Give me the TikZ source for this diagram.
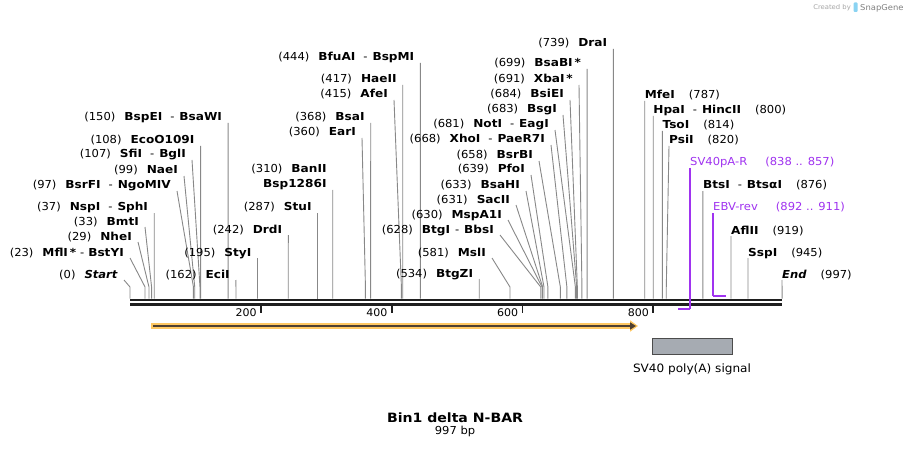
\documentclass[tikz,border=0pt]{standalone}
\usepackage{fontspec}
\setmainfont{DejaVu Sans}[FakeStretch=1.05,BoldFeatures={FakeStretch=1.1}]
\usetikzlibrary{positioning}
\usetikzlibrary{arrows.meta}
\def\myorigin{130}
\def\myscale{0.654}
\def\mybend{287}
\def\mytop{298.5}
\def\mygap{6}
\definecolor{cutgrey}{HTML}{888888}
\definecolor{primerviolet}{HTML}{A033F0}
\definecolor{orfglow}{HTML}{FFC862}
\definecolor{orfdark}{HTML}{4F4030}
\definecolor{signalgrey}{HTML}{A6ABB2}
\definecolor{snapblue}{HTML}{8AD3F2}
\def\nm#1{\textbf{#1}}
% enzyme label left of its cut line, and right of it
\def\leftsite#1#2#3#4#5{%
  \node[left site] (#1) at (#2-\mygap,#3+4) {#5};
  \draw[cut line] ([xshift=\mygap pt,yshift=-2pt]#1.base east) -- ({\myorigin+\myscale*#4},\mybend) -- ({\myorigin+\myscale*#4},\mytop);}
\def\rightsite#1#2#3#4#5{%
  \node[right site] (#1) at (#2,#3+4) {#5};
  \draw[cut line] ([yshift=-2pt]#1.base west) -- ({\myorigin+\myscale*#4},\mybend) -- ({\myorigin+\myscale*#4},\mytop);}
\tikzset{
semithick,
>=stealth,
site/.style={inner sep=0pt,font=\fontsize{11}{13}\selectfont},
left site/.style={site,anchor=base east},
right site/.style={site,anchor=base west},
cut line/.style={draw=cutgrey,line width=0.9pt},
primer/.style={site,anchor=base west,text=primerviolet},
primer line/.style={draw=primerviolet,line width=1.3pt},
primer bar/.style={draw=primerviolet,line width=2.2pt},
backbone/.style={draw=black!88,line width=2.6pt},
scale tick/.style={draw=black!88,line width=1.8pt},
tick label/.style={inner sep=0pt,anchor=base east,font=\fontsize{10.5}{12}\selectfont},
orf glow/.style={draw=orfglow,line width=6pt,-{Triangle[length=8pt,width=11pt]}},
orf/.style={draw=orfdark,line width=2.3pt,-{Triangle[length=6pt,width=7pt]}},
feature/.style={draw=black!70,fill=signalgrey,line width=0.8pt,minimum width=80pt,minimum height=16pt,inner sep=0pt},
feature label/.style={inner sep=0pt,font=\fontsize{11.5}{13}\selectfont},
map name/.style={inner sep=0pt,anchor=base,font=\fontsize{12.8}{15}\selectfont\bfseries},
map size/.style={inner sep=0pt,anchor=base,font=\fontsize{11}{12}\selectfont},
watermark/.style={inner sep=0pt,text=black!35,font=\fontsize{6.5}{8}\selectfont}
}
\begin{document}
\begin{tikzpicture}[x=1pt,y=-1pt]
\path[fill=white,use as bounding box] (0,0) rectangle (912,449);

\node[watermark,anchor=base east] (createdby) at (851,10) {Created by};
\fill[snapblue,rounded corners=1pt] (853.5,2.5) rectangle (857.5,12);
\node[watermark,anchor=base west,text=black!50,font=\fontsize{8}{9}\selectfont] (snapgene) at (860,10.5) {SnapGene};

% backbone and scale
\coordinate (bbstart) at (130,300);
\coordinate (bbend) at (782,300);
\draw[backbone] (bbstart) -- (bbend);
\draw[backbone] ([yshift=-4.3pt]bbstart) -- ([yshift=-4.3pt]bbend);
\foreach \t in {200,400,600,800} {
  \draw[scale tick] ({\myorigin+\myscale*\t},305) -- ({\myorigin+\myscale*\t},312.5);
  \node[tick label] (t\t) at ({\myorigin+\myscale*\t-4},316) {\t};
}

% sites left of the cut
\leftsite{start}{124}{274}{0}{(0)\hspace{9pt}\nm{\textit{Start}}}
\leftsite{mfli}{130}{252}{23}{(23)\hspace{9pt}\nm{MflI\,*}\hspace{4pt}-\hspace{4pt}\nm{BstYI}}
\leftsite{nhei}{138}{236}{29}{(29)\hspace{9pt}\nm{NheI}}
\leftsite{bmti}{145}{221}{33}{(33)\hspace{9pt}\nm{BmtI}}
\leftsite{nspi}{154.2}{207}{37}{(37)\hspace{9pt}\nm{NspI}\hspace{8pt}-\hspace{5pt}\nm{SphI}}
\leftsite{bsrfi}{177}{185}{97}{(97)\hspace{9pt}\nm{BsrFI}\hspace{8pt}-\hspace{5pt}\nm{NgoMIV}}
\leftsite{naei}{184}{170}{99}{(99)\hspace{9pt}\nm{NaeI}}
\leftsite{sfii}{192}{154}{107}{(107)\hspace{9pt}\nm{SfiI}\hspace{8pt}-\hspace{5pt}\nm{BglI}}
\leftsite{ecoo109i}{200.6}{140}{108}{(108)\hspace{9pt}\nm{EcoO109I}}
\leftsite{bspei}{228.1}{117}{150}{(150)\hspace{9pt}\nm{BspEI}\hspace{8pt}-\hspace{5pt}\nm{BsaWI}}
\leftsite{ecii}{235.9}{274}{162}{(162)\hspace{9pt}\nm{EciI}}
\leftsite{styi}{257.5}{252}{195}{(195)\hspace{9pt}\nm{StyI}}
\leftsite{drdi}{288.3}{229}{242}{(242)\hspace{9pt}\nm{DrdI}}
\leftsite{stui}{317.7}{207}{287}{(287)\hspace{9pt}\nm{StuI}}
\node[left site] (banii) at (332.7-\mygap,173) {(310)\hspace{9pt}\nm{BanII}};
\leftsite{bsp1286i}{332.7}{184}{310}{\nm{Bsp1286I}}
\leftsite{eari}{362}{132}{360}{(360)\hspace{9pt}\nm{EarI}}
\leftsite{bsai}{370.7}{117}{368}{(368)\hspace{9pt}\nm{BsaI}}
\leftsite{afei}{394}{94}{415}{(415)\hspace{9pt}\nm{AfeI}}
\leftsite{haeii}{402.7}{79}{417}{(417)\hspace{9pt}\nm{HaeII}}
\leftsite{bfuai}{420.4}{57}{444}{(444)\hspace{9pt}\nm{BfuAI}\hspace{8pt}-\hspace{5pt}\nm{BspMI}}
\leftsite{btgzi}{479.2}{273}{534}{(534)\hspace{9pt}\nm{BtgZI}}
\leftsite{msli}{492}{252}{581}{(581)\hspace{9pt}\nm{MslI}}
\leftsite{btgi}{500}{229}{628}{(628)\hspace{9pt}\nm{BtgI}\hspace{5pt}-\hspace{5pt}\nm{BbsI}}
\leftsite{mspa1i}{508}{214}{630}{(630)\hspace{9pt}\nm{MspA1I}}
\leftsite{sacii}{516}{199}{631}{(631)\hspace{9pt}\nm{SacII}}
\leftsite{bsahi}{526}{185}{633}{(633)\hspace{9pt}\nm{BsaHI}}
\leftsite{pfoi}{531}{169}{639}{(639)\hspace{9pt}\nm{PfoI}}
\leftsite{bsrbi}{539}{155}{658}{(658)\hspace{9pt}\nm{BsrBI}}
\leftsite{xhoi}{551}{139}{668}{(668)\hspace{9pt}\nm{XhoI}\hspace{8pt}-\hspace{5pt}\nm{PaeR7I}}
\leftsite{noti}{555}{124}{681}{(681)\hspace{9pt}\nm{NotI}\hspace{8pt}-\hspace{5pt}\nm{EagI}}
\leftsite{bsgi}{563}{109}{683}{(683)\hspace{9pt}\nm{BsgI}}
\leftsite{bsiei}{570}{94}{684}{(684)\hspace{9pt}\nm{BsiEI}}
\leftsite{xbai}{579}{79}{691}{(691)\hspace{9pt}\nm{XbaI\,*}}
\leftsite{bsabi}{587.1}{63}{699}{(699)\hspace{9pt}\nm{BsaBI\,*}}
\leftsite{drai}{613.3}{43}{739}{(739)\hspace{9pt}\nm{DraI}}

% sites right of the cut
\rightsite{mfei}{644.7}{95}{787}{\nm{MfeI}\hspace{14pt}(787)}
\rightsite{hpai}{653.2}{110}{800}{\nm{HpaI}\hspace{8pt}-\hspace{5pt}\nm{HincII}\hspace{14pt}(800)}
\rightsite{tsoi}{662.4}{125}{814}{\nm{TsoI}\hspace{14pt}(814)}
\rightsite{psii}{669}{140}{820}{\nm{PsiI}\hspace{14pt}(820)}
\rightsite{btsi}{702.9}{185}{876}{\nm{BtsI}\hspace{8pt}-\hspace{5pt}\nm{BtsαI}\hspace{14pt}(876)}
\rightsite{aflii}{731}{230}{919}{\nm{AflII}\hspace{14pt}(919)}
\rightsite{sspi}{748}{252}{945}{\nm{SspI}\hspace{14pt}(945)}
\rightsite{seqend}{782}{274}{997}{\nm{\textit{End}}\hspace{14pt}(997)}

% primers
\coordinate (sv40pastart) at ({\myorigin+\myscale*838},309);
\node[primer] (sv40par) at (690,166) {SV40pA-R\hspace{18pt}(838 .. 857)};
\draw[primer line] ([yshift=-2pt]sv40par.base west) -- (sv40par.base west |- sv40pastart);
\draw[primer bar] (sv40par.base west |- sv40pastart) -- (sv40pastart);
\coordinate (ebvrevend) at ({\myorigin+\myscale*911},296);
\node[primer] (ebvrev) at (713,211) {EBV-rev\hspace{18pt}(892 .. 911)};
\draw[primer line] ([yshift=-2pt]ebvrev.base west) -- (ebvrev.base west |- ebvrevend);
\draw[primer bar] (ebvrev.base west |- ebvrevend) -- (ebvrevend);

% features
\coordinate (orfstart) at (151,326);
\coordinate (orfend) at (636,326);
\draw[orf glow] (orfstart) -- ([xshift=2pt]orfend);
\draw[orf] ([xshift=2pt]orfstart) -- (orfend);
\node[feature] (sv40polya) at (692,346) {};
\node[feature label,below=9pt of sv40polya] (sv40polyalabel) {SV40 poly(A) signal};

\node[map name] (mapname) at (455,422.3) {Bin1 delta N-BAR};
\node[map size] (mapsize) at ([yshift=-12.5pt]mapname.base) {997 bp};
\end{tikzpicture}
\end{document}
